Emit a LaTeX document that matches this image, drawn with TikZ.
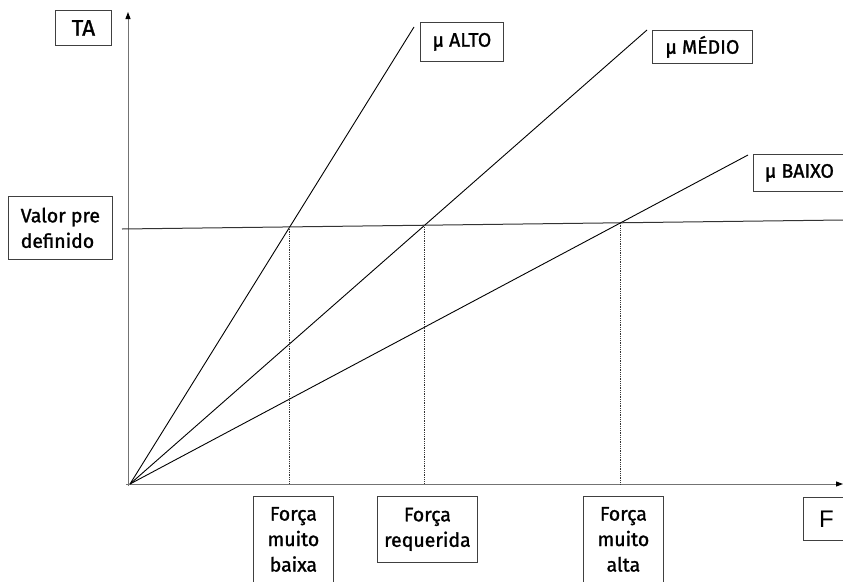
\documentclass[tikz,border=0pt]{standalone}
\usepackage{fontspec}
\setmainfont{Fira Sans}[FakeBold=1.3]
\newfontfamily\ffont{Liberation Sans}
\usetikzlibrary{arrows.meta,intersections}
\begin{document}
\begin{tikzpicture}[x=1pt,y=-1pt,
  box/.style={draw=black!75, line width=0.8pt, inner sep=0pt, font=\fontsize{19.5}{25.5}\selectfont, align=center, anchor=north west},
  axis/.style={draw=black!55, line width=1pt, -{Triangle[length=7pt,width=5pt,color=black,fill=black]}},
  muline/.style={draw=black, line width=0.9pt},
  hline/.style={draw=black!80, line width=1pt},
  guide/.style={draw=black!80, line width=0.8pt, densely dotted}]
\useasboundingbox (0,0) rectangle (843,581);
\clip (0,0) rectangle (843,581);

% coordinates
\coordinate (O) at (130,484);
\coordinate (ya) at (128,486);
\coordinate (yt) at (128,12);
\coordinate (xa) at (126,484);
\coordinate (xt) at (843,484);
\coordinate (hA) at (122,229);
\coordinate (hB) at (843,220);
\coordinate (eA) at (414,27);
\coordinate (eM) at (647,30);
\coordinate (eB) at (748,155);

% axes
\draw[axis] (ya) -- (yt);
\draw[axis] (xa) -- (xt);

% preset value line
\draw[hline, name path=h] (hA) -- (hB);

% mu lines
\draw[muline, name path=la] (O) -- (eA);
\draw[muline, name path=lm] (O) -- (eM);
\draw[muline, name path=lb] (O) -- (eB);

\path[name intersections={of=h and la, by=iA}];
\path[name intersections={of=h and lm, by=iM}];
\path[name intersections={of=h and lb, by=iB}];

\draw[guide] (iA) -- (iA |- O);
\draw[guide] (iM) -- (iM |- O);
\draw[guide] (iB) -- (iB |- O);

% boxes
\node[box, minimum width=56pt, minimum height=35pt, font=\fontsize{22.5}{25}\selectfont] (ta) at (55,10) {TA};
\node[box, minimum width=83pt, minimum height=39pt] (alto) at (420,22) {μ ALTO};
\node[box, minimum width=100pt, minimum height=33pt] (medio) at (652,30) {μ MÉDIO};
\node[box, minimum width=92pt, minimum height=37pt] (baixo) at (753,154) {μ BAIXO};
\node[box, minimum width=104pt, minimum height=63pt, align=left] (valor) at (8,196) {Valor pre\\definido};
\node[box, minimum width=80pt, minimum height=86pt] (fmb) at (253,496) {Força\\muito\\baixa};
\node[box, minimum width=100pt, minimum height=66pt] (freq) at (377,496) {Força\\requerida};
\node[box, minimum width=80pt, minimum height=86pt] (fma) at (583,496) {Força\\muito\\alta};
\node[box, minimum width=46pt, minimum height=43pt, font=\ffont\fontsize{24}{28}\selectfont] (f) at (803,497) {F};
\end{tikzpicture}
\end{document}
